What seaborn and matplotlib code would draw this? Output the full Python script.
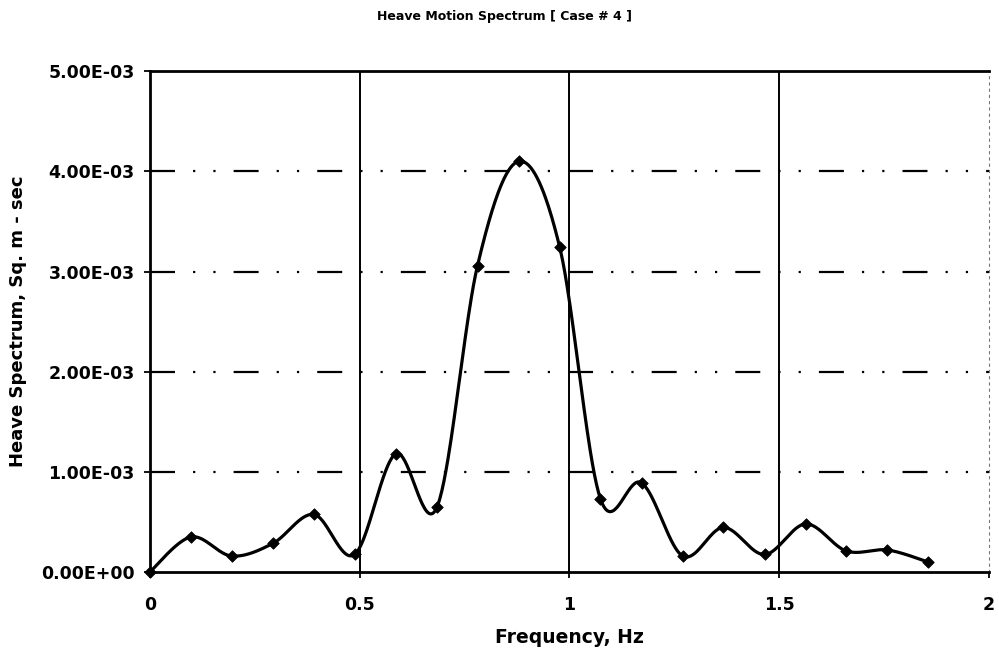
import numpy as np
import pandas as pd
import matplotlib
matplotlib.use("Agg")
import matplotlib.pyplot as plt
from matplotlib.ticker import FuncFormatter
import seaborn as sns

# Heave motion spectrum, case 4
freq_hz = [0.000, 0.098, 0.195, 0.293, 0.391, 0.488, 0.586, 0.684, 0.781, 0.879,
           0.977, 1.074, 1.172, 1.270, 1.367, 1.465, 1.563, 1.660, 1.758, 1.855]
heave_spec = [0.00e-3, 0.35e-3, 0.16e-3, 0.285e-3, 0.575e-3, 0.175e-3, 1.18e-3, 0.645e-3,
              3.06e-3, 4.10e-3, 3.24e-3, 0.73e-3, 0.89e-3, 0.16e-3, 0.445e-3, 0.175e-3,
              0.48e-3, 0.21e-3, 0.22e-3, 0.10e-3]

title = "Heave Motion Spectrum [ Case # 4 ]"
x_label = "Frequency, Hz"
y_label = "Heave Spectrum, Sq. m - sec"
x_ticks = [0, 0.5, 1, 1.5, 2]
y_ticks = [0.0, 1e-3, 2e-3, 3e-3, 4e-3, 5e-3]


def smooth_curve(x, y, n=40):
    """Catmull-Rom (cubic Bezier) smoothing through every point."""
    p = np.column_stack([x, y]).astype(float)
    p = np.vstack([p[0], p, p[-1]])
    out = []
    t = np.linspace(0, 1, n, endpoint=False)[:, None]
    for i in range(1, len(p) - 2):
        p0, p1, p2, p3 = p[i - 1], p[i], p[i + 1], p[i + 2]
        c1 = p1 + (p2 - p0) / 6.0
        c2 = p2 - (p3 - p1) / 6.0
        seg = ((1 - t) ** 3) * p1 + 3 * ((1 - t) ** 2) * t * c1 + 3 * (1 - t) * t ** 2 * c2 + t ** 3 * p2
        out.append(seg)
    out.append(p[-2][None, :])
    s = np.vstack(out)
    return s[:, 0], s[:, 1]


sns.set_theme(style="white")
plt.rcParams["font.family"] = ["DejaVu Sans"]
plt.rcParams["lines.scale_dashes"] = False

fig = plt.figure(figsize=(9.99, 6.53), dpi=100)
ax = fig.add_axes([0.150, 0.124, 0.840, 0.767])

sx, sy = smooth_curve(freq_hz, heave_spec)
curve = pd.DataFrame({"f": sx, "s": sy})
points = pd.DataFrame({"f": freq_hz, "s": heave_spec})

sns.lineplot(data=curve, x="f", y="s", sort=False, color="black", linewidth=2.3, ax=ax, zorder=3)
sns.scatterplot(data=points, x="f", y="s", marker="D", s=34, color="black",
                edgecolor="black", linewidth=0.6, ax=ax, zorder=4, clip_on=False)

ax.set_xlim(0, 2)
ax.set_ylim(0, 5e-3)
ax.set_xticks(x_ticks)
ax.set_yticks(y_ticks)
ax.xaxis.set_major_formatter(FuncFormatter(lambda v, _: f"{v:g}"))
ax.yaxis.set_major_formatter(FuncFormatter(lambda v, _: f"{v:.2E}"))

# Gridlines: solid verticals, dash-dot horizontals
for xv in x_ticks[1:-1]:
    ax.axvline(xv, color="black", linewidth=1.4, zorder=1)
for yv in y_ticks[1:-1]:
    ax.axhline(yv, color="black", linewidth=1.6, zorder=1,
               linestyle=(0, (18, 13, 1.6, 13, 1.6, 13)))

for side in ["left", "bottom", "top"]:
    ax.spines[side].set_visible(True)
    ax.spines[side].set_color("black")
    ax.spines[side].set_linewidth(2.0)
ax.spines["right"].set_color("#777777")
ax.spines["right"].set_linewidth(0.8)
ax.spines["right"].set_linestyle((0, (1.5, 3)))

ax.tick_params(axis="both", which="major", direction="out", length=4, width=1.3,
               color="black", labelsize=12.5, labelcolor="black",
               left=True, bottom=True)
ax.tick_params(axis="y", pad=7)
ax.tick_params(axis="x", pad=13)
for lab in ax.get_xticklabels() + ax.get_yticklabels():
    lab.set_fontweight("bold")

ax.set_xlabel(x_label, fontsize=13.5, fontweight="bold", color="black", labelpad=10)
ax.set_ylabel(y_label, fontsize=13, fontweight="bold", color="black", labelpad=10)
fig.text(0.505, 0.975, title, ha="center", va="center", fontsize=9, fontweight="bold",
         color="black")

fig.savefig("out.png", dpi=100, facecolor="white")
